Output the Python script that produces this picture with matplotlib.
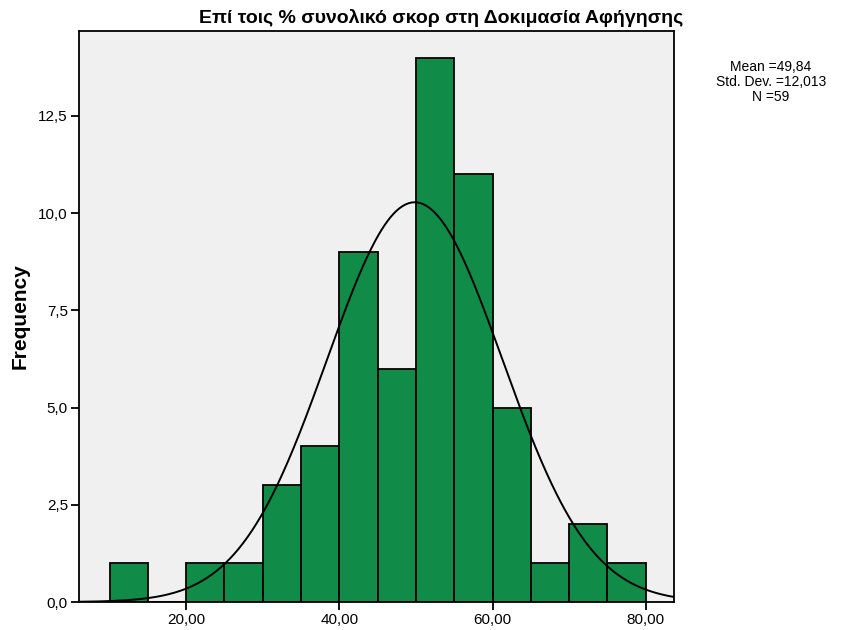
import numpy as np
import matplotlib
matplotlib.use("Agg")
import matplotlib.pyplot as plt

# histogram data (bins of width 5, from 10 to 80)
bin_edges = [10, 15, 20, 25, 30, 35, 40, 45, 50, 55, 60, 65, 70, 75, 80]
counts = [1, 0, 1, 1, 3, 4, 9, 6, 14, 11, 5, 1, 2, 1]

mean = 49.84
std_dev = 12.013
n = 59
curve_sd = 11.45  # spread of the drawn normal curve

title = "Επί τοις % συνολικό σκορ στη Δοκιμασία Αφήγησης"
yticks = [0, 2.5, 5, 7.5, 10, 12.5]
xticks = [20, 40, 60, 80]

plt.rcParams['font.family'] = ['Liberation Sans', 'DejaVu Sans']

fig = plt.figure(figsize=(8.5, 6.3), dpi=100)
ax = fig.add_axes([79 / 850, 1 - 602 / 630, (674 - 79) / 850, (602 - 30.7) / 630])
ax.set_facecolor('#F0F0F0')

widths = np.diff(bin_edges)
ax.bar(bin_edges[:-1], counts, width=widths, align='edge',
       color='#108C48', edgecolor='black', linewidth=1.3, zorder=2)

# normal curve
bw = widths[0]
xs = np.linspace(6.0, 83.7, 400)
ys = n * bw * np.exp(-0.5 * ((xs - mean) / curve_sd) ** 2) / (curve_sd * np.sqrt(2 * np.pi))
ax.plot(xs, ys, color='black', linewidth=1.4, zorder=3)

ax.set_xlim(6.0, 83.7)
ax.set_ylim(0, 14.69)
ax.set_yticks(yticks)
ax.set_yticklabels([f"{v:.1f}".replace('.', ',') for v in yticks])
ax.set_xticks(xticks)
ax.set_xticklabels([f"{v:.2f}".replace('.', ',') for v in xticks])
ax.tick_params(axis='both', direction='out', length=6, width=1.3, labelsize=11, pad=2)

for s in ax.spines.values():
    s.set_linewidth(1.3)

ax.set_ylabel('Frequency', fontsize=15, fontweight='bold', labelpad=6)
fig.text(441 / 850, 1 - 18 / 630, title, ha='center', va='center',
         fontsize=14, fontweight='bold')

fig.text(771 / 850, 1 - 67 / 630, "Mean =" + f"{mean:.2f}".replace('.', ','),
         ha='center', va='center', fontsize=10)
fig.text(771 / 850, 1 - 82 / 630, "Std. Dev. =" + f"{std_dev:.3f}".replace('.', ','),
         ha='center', va='center', fontsize=10)
fig.text(771 / 850, 1 - 97 / 630, f"N ={n}", ha='center', va='center', fontsize=10)

fig.savefig('out.png', dpi=100)
